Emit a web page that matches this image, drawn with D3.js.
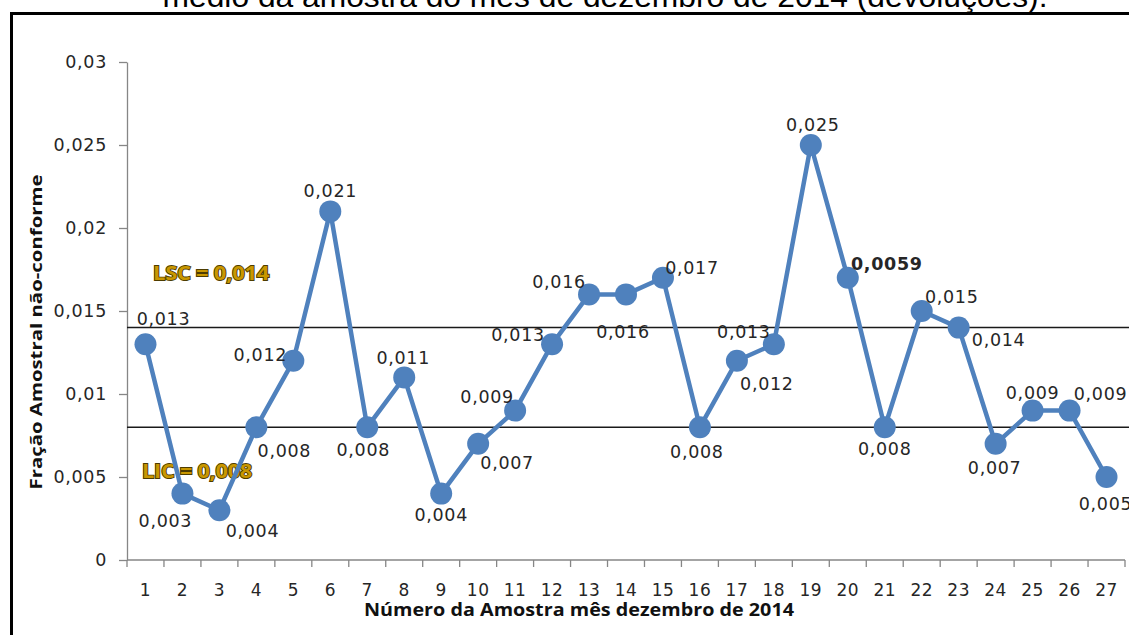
<!DOCTYPE html>
<html>
<head>
<meta charset="utf-8">
<script src="https://cdn.jsdelivr.net/npm/d3@7"></script>
<style>
  html, body { margin: 0; padding: 0; background: #fff; }
  svg { display: block; }
</style>
</head>
<body>
<svg id="chart" width="1129" height="635"></svg>
<script>
// Sample numbers (x categories)
const samples = d3.range(1, 28);

// Fraction non-conforming per sample
const fractions = [
  0.013, 0.004, 0.003, 0.008, 0.012, 0.021, 0.008, 0.011, 0.004, 0.007,
  0.009, 0.013, 0.016, 0.016, 0.017, 0.008, 0.012, 0.013, 0.025, 0.017,
  0.008, 0.015, 0.014, 0.007, 0.009, 0.009, 0.005
];

// Data label texts as printed next to each point
const pointLabels = [
  "0,013", "0,004", "0,003", "0,008", "0,012", "0,021", "0,008", "0,011", "0,004", "0,007",
  "0,009", "0,013", "0,016", "0,016", "0,017", "0,008", "0,012", "0,013", "0,025", "0,0059",
  "0,008", "0,015", "0,014", "0,007", "0,009", "0,009", "0,005"
];

// Label offsets from each point (pixels)
const labelOffsets = [
  [18, -26], [70, 37], [-54, 10], [28, 23], [-33, -6], [0, -21], [-4, 22], [-1, -20], [0, 21], [29, 19],
  [-28, -14], [-34, -10], [-30, -13], [-3, 37], [29, -10], [-3, 24], [30, 23], [-30, -13], [2, -20], [39, -14],
  [0, 21], [30, -14], [40, 12], [-1, 24], [0, -18], [31, -17], [-1, 27]
];

// Control limits
const limitUpper = 0.014;
const limitLower = 0.008;
const yTicks = [0, 0.005, 0.01, 0.015, 0.02, 0.025, 0.03];

const svg = d3.select("#chart");
const W = 1129, H = 635;
const plotL = 127, plotR = 1125, plotT = 62, plotB = 560;

const ptBR = d3.formatLocale({ decimal: ",", thousands: ".", grouping: [3], currency: ["R$", ""] });
const fmt = ptBR.format("~g");

const x = d3.scaleBand().domain(samples).range([plotL, plotR]).paddingInner(0).paddingOuter(0);
const y = d3.scaleLinear().domain([0, 0.03]).range([plotB, plotT]);
const cx = d => x(d) + x.bandwidth() / 2;

svg.append("rect").attr("width", W).attr("height", H).attr("fill", "#fff");

// Caption above the frame (partially cut by the top edge)
svg.append("text")
  .attr("x", 605).attr("y", 7)
  .attr("text-anchor", "middle")
  .attr("font-family", "Liberation Sans, Arial, sans-serif")
  .attr("font-size", 30)
  .attr("textLength", 885)
  .attr("lengthAdjust", "spacingAndGlyphs")
  .attr("fill", "#000")
  .text("médio da amostra do mês de dezembro de 2014 (devoluções).");

// Outer frame
svg.append("rect")
  .attr("x", 11.5).attr("y", 13.5)
  .attr("width", 1140).attr("height", 640)
  .attr("fill", "none").attr("stroke", "#000").attr("stroke-width", 3);

const axisColor = "#868686";
const tickFont = "DejaVu Sans, Verdana, sans-serif";
const numSize = 17.5;
const numSpacing = 0.7;

// Y axis
const yAxis = svg.append("g")
  .attr("transform", `translate(${plotL},0)`)
  .call(d3.axisLeft(y).tickValues(yTicks).tickFormat(d => fmt(d)).tickSize(8).tickPadding(12).tickSizeOuter(0));
yAxis.select(".domain").attr("stroke", axisColor).attr("stroke-width", 1.3);
yAxis.selectAll(".tick line").attr("stroke", axisColor).attr("stroke-width", 1.3);
yAxis.selectAll(".tick text")
  .attr("font-family", tickFont).attr("font-size", numSize)
  .attr("letter-spacing", numSpacing).attr("fill", "#262626");

// X axis (ticks at category boundaries)
const xAxisG = svg.append("g").attr("transform", `translate(0,${plotB})`);
xAxisG.append("line")
  .attr("x1", plotL).attr("x2", plotR).attr("y1", 0).attr("y2", 0)
  .attr("stroke", axisColor).attr("stroke-width", 1.3);
const bounds = samples.map(d => x(d)).concat([plotR]);
xAxisG.selectAll("line.tk").data(bounds).join("line")
  .attr("class", "tk")
  .attr("x1", d => d).attr("x2", d => d).attr("y1", 0).attr("y2", 7)
  .attr("stroke", axisColor).attr("stroke-width", 1.3);
xAxisG.selectAll("text.tl").data(samples).join("text")
  .attr("class", "tl")
  .attr("x", d => cx(d)).attr("y", 36)
  .attr("text-anchor", "middle")
  .attr("font-family", tickFont).attr("font-size", 17)
  .attr("letter-spacing", 0.5).attr("fill", "#262626")
  .text(d => d);

// Axis titles
const titleFont = "Open Sans, sans-serif";
svg.append("text")
  .attr("x", 579).attr("y", 616)
  .attr("text-anchor", "middle")
  .attr("font-family", titleFont).attr("font-weight", "bold").attr("font-size", 17)
  .attr("textLength", 430).attr("lengthAdjust", "spacingAndGlyphs")
  .attr("fill", "#111")
  .text("Número da Amostra mês dezembro de 2014");
svg.append("text")
  .attr("transform", "translate(42,332) rotate(-90)")
  .attr("text-anchor", "middle")
  .attr("font-family", titleFont).attr("font-weight", "bold").attr("font-size", 16.5)
  .attr("textLength", 315).attr("lengthAdjust", "spacingAndGlyphs")
  .attr("fill", "#111")
  .text("Fração  Amostral não-conforme");

// Control limit lines
[limitUpper, limitLower].forEach(v => {
  svg.append("line")
    .attr("x1", plotL).attr("x2", W).attr("y1", y(v)).attr("y2", y(v))
    .attr("stroke", "#1a1a1a").attr("stroke-width", 1.5);
});

// Control limit captions
const limitCaptions = [
  { text: "LSC = " + fmt(limitUpper), x: 211, y: 280 },
  { text: "LIC = " + fmt(limitLower), x: 197, y: 478 }
];
svg.selectAll("text.lim").data(limitCaptions).join("text")
  .attr("class", "lim")
  .attr("x", d => d.x).attr("y", d => d.y)
  .attr("text-anchor", "middle")
  .attr("font-family", titleFont).attr("font-weight", "bold").attr("font-size", 20)
  .attr("letter-spacing", -0.2)
  .attr("textLength", d => d.text.startsWith("LSC") ? 116 : 110)
  .attr("lengthAdjust", "spacingAndGlyphs")
  .attr("fill", "#c99700")
  .attr("stroke", "#4d3c00").attr("stroke-width", 1.8)
  .attr("paint-order", "stroke")
  .text(d => d.text);

// Series line and markers
const blue = "#4F81BD";
const pts = samples.map((s, i) => ({ s, v: fractions[i], label: pointLabels[i], off: labelOffsets[i] }));
svg.append("path")
  .datum(pts)
  .attr("fill", "none").attr("stroke", blue).attr("stroke-width", 4.5)
  .attr("stroke-linejoin", "round")
  .attr("d", d3.line().x(d => cx(d.s)).y(d => y(d.v)));
svg.selectAll("circle.pt").data(pts).join("circle")
  .attr("class", "pt")
  .attr("cx", d => cx(d.s)).attr("cy", d => y(d.v)).attr("r", 11)
  .attr("fill", blue);

// Data labels
svg.selectAll("text.dl").data(pts).join("text")
  .attr("class", "dl")
  .attr("x", d => cx(d.s) + d.off[0]).attr("y", d => y(d.v) + d.off[1])
  .attr("dy", "0.36em")
  .attr("text-anchor", "middle")
  .attr("font-family", tickFont).attr("font-size", numSize)
  .attr("letter-spacing", numSpacing)
  .attr("font-weight", d => d.label === "0,0059" ? "bold" : "normal")
  .attr("fill", "#262626")
  .text(d => d.label);
</script>
</body>
</html>
